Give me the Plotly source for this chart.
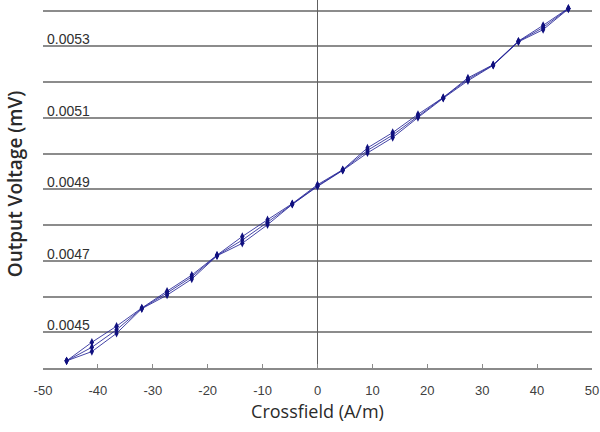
import plotly.graph_objects as go

# Crossfield (A/m)
crossfield = [-45.7, -41.1, -36.6, -32.0, -27.4, -22.9, -18.3, -13.7, -9.1, -4.6, 0.0,
              4.6, 9.1, 13.7, 18.3, 22.9, 27.4, 32.0, 36.6, 41.1, 45.7]

# Output voltage (mV), three measurement passes
voltage_a = [0.004420, 0.004472, 0.004517, 0.004568, 0.004615, 0.004660, 0.004716,
             0.004768, 0.004815, 0.004860, 0.004913, 0.004955, 0.005016, 0.005059,
             0.005110, 0.005157, 0.005212, 0.005249, 0.005315, 0.005359, 0.005407]
voltage_b = [0.004420, 0.004446, 0.004497, 0.004566, 0.004604, 0.004649, 0.004714,
             0.004749, 0.004801, 0.004858, 0.004908, 0.004953, 0.005002, 0.005045,
             0.005101, 0.005155, 0.005204, 0.005247, 0.005313, 0.005347, 0.005405]
voltage_c = [0.004420, 0.004458, 0.004507, 0.004567, 0.004610, 0.004655, 0.004715,
             0.004758, 0.004808, 0.004859, 0.004910, 0.004954, 0.005009, 0.005052,
             0.005105, 0.005156, 0.005208, 0.005248, 0.005314, 0.005353, 0.005406]

x_ticks = [-50, -40, -30, -20, -10, 0, 10, 20, 30, 40, 50]
y_label_vals = [0.0045, 0.0047, 0.0049, 0.0051, 0.0053]
y_label_text = ["0.0045", "0.0047", "0.0049", "0.0051", "0.0053"]

fig = go.Figure()
for series in (voltage_a, voltage_b, voltage_c):
    fig.add_trace(go.Scatter(
        x=crossfield, y=series, mode="lines+markers",
        line=dict(color="rgba(35,35,150,0.85)", width=1),
        marker=dict(symbol="diamond-tall", size=6, color="#10107f"),
        showlegend=False, cliponaxis=False,
    ))

for v, t in zip(y_label_vals, y_label_text):
    fig.add_annotation(
        x=-50, y=v, xref="x", yref="y", text=t, showarrow=False,
        xanchor="left", yanchor="bottom", xshift=2, yshift=-3,
        font=dict(family="Liberation Sans, Arial", size=14, color="#303030"),
    )

fig.update_layout(
    width=600, height=432,
    margin=dict(l=43, r=8, t=0, b=64),
    paper_bgcolor="white", plot_bgcolor="white",
    xaxis=dict(
        range=[-50, 50], tickvals=x_ticks, ticktext=[str(v) for v in x_ticks],
        showgrid=False, zeroline=True, zerolinecolor="#606060", zerolinewidth=1,
        showline=True, linecolor="#8a8a8a", linewidth=1.5,
        ticks="inside", ticklen=4, tickcolor="#8a8a8a",
        ticklabelstandoff=10,
        tickfont=dict(family="Liberation Sans, Arial", size=13, color="#404040"),
        title=dict(text="Crossfield (A/m)", standoff=8,
                   font=dict(family="Open Sans", size=18, color="#2a2a2a")),
    ),
    yaxis=dict(
        range=[0.0044, 0.00543], tick0=0.0044, dtick=0.0001,
        showticklabels=False, ticks="",
        showgrid=True, gridcolor="#8c8c8c", gridwidth=1.5,
        zeroline=False, showline=False,
        title=dict(text="Output Voltage (mV)", standoff=14,
                   font=dict(family="Open Sans", size=19, weight=600, color="#2a2a2a")),
    ),
)

fig.write_html("out.html")
